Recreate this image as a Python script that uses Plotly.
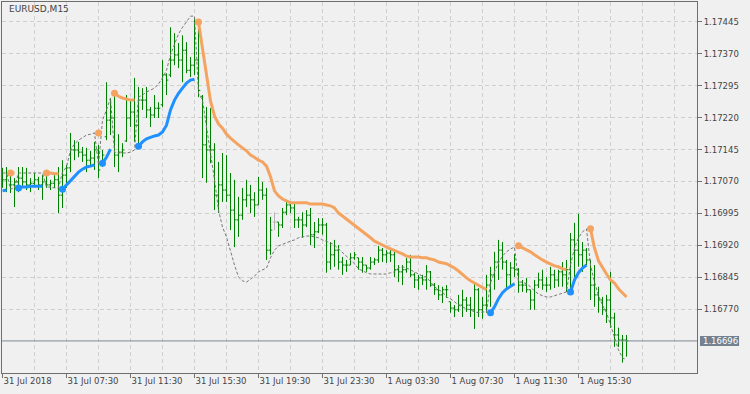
import plotly.graph_objects as go

# ---------------- data ----------------
bars = list(range(157))  # M15 bar index, 0 = 31 Jul 2018 03:30

open_ = [1.17070,1.17074,1.17085,1.17062,1.17069,1.17078,1.17069,1.17062,1.17066,1.17074,
 1.17062,1.17069,1.17062,1.17066,1.17074,1.17038,1.17085,1.17102,1.17144,1.17144,
 1.17139,1.17132,1.17120,1.17125,1.17144,1.17110,1.17175,1.17214,1.17219,1.17132,
 1.17139,1.17165,1.17219,1.17233,1.17202,1.17261,1.17261,1.17238,1.17226,1.17242,
 1.17250,1.17320,1.17320,1.17355,1.17367,1.17355,1.17378,1.17331,1.17343,1.17355,
 1.17270,1.17156,1.17144,1.17144,1.17038,1.17062,1.17050,1.17038,1.17003,1.16980,
 1.16991,1.17027,1.17038,1.17027,1.17015,1.17050,1.17038,1.16909,1.16975,1.16975,
 1.16968,1.16998,1.17015,1.17008,1.16980,1.16980,1.16968,1.16991,1.16945,1.16952,
 1.16968,1.16968,1.16881,1.16898,1.16909,1.16881,1.16874,1.16874,1.16891,1.16891,
 1.16881,1.16874,1.16867,1.16881,1.16886,1.16909,1.16898,1.16902,1.16898,1.16863,
 1.16858,1.16863,1.16881,1.16851,1.16839,1.16844,1.16839,1.16858,1.16827,1.16816,
 1.16804,1.16816,1.16788,1.16773,1.16769,1.16780,1.16792,1.16780,1.16769,1.16816,
 1.16769,1.16780,1.16827,1.16851,1.16881,1.16909,1.16881,1.16851,1.16867,1.16863,
 1.16827,1.16827,1.16816,1.16792,1.16827,1.16839,1.16827,1.16827,1.16851,1.16839,
 1.16858,1.16851,1.16863,1.16933,1.16909,1.16898,1.16909,1.16886,1.16827,1.16804,
 1.16792,1.16769,1.16792,1.16750,1.16710,1.16698,1.16698]

high = [1.17102,1.17104,1.17097,1.17078,1.17104,1.17104,1.17102,1.17078,1.17090,1.17081,
 1.17085,1.17085,1.17074,1.17085,1.17104,1.17120,1.17109,1.17184,1.17167,1.17163,
 1.17151,1.17149,1.17142,1.17163,1.17156,1.17144,1.17303,1.17266,1.17284,1.17181,
 1.17160,1.17273,1.17261,1.17313,1.17292,1.17289,1.17292,1.17245,1.17273,1.17256,
 1.17355,1.17324,1.17432,1.17418,1.17395,1.17413,1.17397,1.17362,1.17456,1.17444,
 1.17273,1.17245,1.17242,1.17160,1.17116,1.17137,1.17132,1.17090,1.17074,1.17034,
 1.17055,1.17074,1.17062,1.17045,1.17081,1.17069,1.17055,1.16987,1.16998,1.16975,
 1.17008,1.17027,1.17022,1.17020,1.16987,1.16998,1.17003,1.17008,1.16975,1.16984,
 1.16984,1.16973,1.16928,1.16933,1.16921,1.16893,1.16886,1.16902,1.16905,1.16891,
 1.16893,1.16874,1.16893,1.16891,1.16919,1.16914,1.16909,1.16914,1.16905,1.16874,
 1.16874,1.16891,1.16898,1.16856,1.16851,1.16851,1.16874,1.16860,1.16832,1.16827,
 1.16823,1.16827,1.16788,1.16780,1.16804,1.16816,1.16799,1.16799,1.16832,1.16820,
 1.16799,1.16851,1.16870,1.16905,1.16933,1.16928,1.16886,1.16881,1.16900,1.16867,
 1.16839,1.16844,1.16816,1.16839,1.16856,1.16863,1.16846,1.16870,1.16863,1.16863,
 1.16881,1.16886,1.16949,1.16973,1.16994,1.16928,1.16914,1.16886,1.16874,1.16823,
 1.16799,1.16804,1.16858,1.16762,1.16727,1.16710,1.16710]

low = [1.17055,1.17045,1.17043,1.17010,1.17045,1.17057,1.17050,1.17045,1.17059,1.17050,
 1.17027,1.17055,1.17050,1.17055,1.16996,1.17008,1.17055,1.17092,1.17120,1.17127,
 1.17116,1.17092,1.17104,1.17097,1.17078,1.17104,1.17167,1.17179,1.17104,1.17092,
 1.17127,1.17163,1.17198,1.17163,1.17149,1.17238,1.17219,1.17198,1.17219,1.17219,
 1.17245,1.17273,1.17315,1.17343,1.17336,1.17303,1.17324,1.17315,1.17320,1.17268,
 1.17078,1.17067,1.17113,1.17003,1.16996,1.17022,1.17022,1.16956,1.16916,1.16940,
 1.16980,1.17010,1.16996,1.16987,1.17015,1.17027,1.16886,1.16898,1.16956,1.16940,
 1.16961,1.16991,1.16996,1.16961,1.16961,1.16938,1.16963,1.16921,1.16914,1.16949,
 1.16945,1.16856,1.16863,1.16870,1.16863,1.16851,1.16858,1.16874,1.16886,1.16863,
 1.16856,1.16858,1.16863,1.16874,1.16879,1.16881,1.16879,1.16881,1.16846,1.16834,
 1.16827,1.16856,1.16846,1.16820,1.16816,1.16827,1.16816,1.16823,1.16804,1.16792,
 1.16785,1.16797,1.16762,1.16752,1.16764,1.16752,1.16764,1.16752,1.16724,1.16752,
 1.16748,1.16762,1.16776,1.16816,1.16839,1.16863,1.16816,1.16827,1.16846,1.16809,
 1.16811,1.16809,1.16769,1.16769,1.16820,1.16816,1.16811,1.16816,1.16820,1.16823,
 1.16823,1.16811,1.16809,1.16844,1.16870,1.16858,1.16874,1.16792,1.16776,1.16762,
 1.16757,1.16738,1.16727,1.16682,1.16682,1.16645,1.16659]

close = [1.17074,1.17085,1.17062,1.17069,1.17078,1.17069,1.17062,1.17066,1.17074,1.17062,
 1.17069,1.17062,1.17066,1.17074,1.17038,1.17085,1.17102,1.17144,1.17144,1.17139,
 1.17132,1.17120,1.17125,1.17144,1.17097,1.17132,1.17214,1.17219,1.17132,1.17139,
 1.17144,1.17219,1.17233,1.17202,1.17261,1.17261,1.17238,1.17226,1.17242,1.17242,
 1.17320,1.17308,1.17355,1.17367,1.17355,1.17378,1.17331,1.17343,1.17355,1.17284,
 1.17156,1.17144,1.17144,1.17038,1.17062,1.17050,1.17038,1.17003,1.16980,1.16991,
 1.17027,1.17038,1.17027,1.17015,1.17050,1.17038,1.16909,1.16956,1.16975,1.16968,
 1.16998,1.17015,1.17008,1.16980,1.16980,1.16968,1.16991,1.16945,1.16952,1.16968,
 1.16968,1.16881,1.16898,1.16909,1.16881,1.16874,1.16874,1.16891,1.16898,1.16881,
 1.16874,1.16867,1.16881,1.16886,1.16909,1.16898,1.16902,1.16898,1.16863,1.16858,
 1.16863,1.16881,1.16851,1.16839,1.16844,1.16839,1.16858,1.16827,1.16816,1.16804,
 1.16816,1.16816,1.16773,1.16769,1.16780,1.16792,1.16780,1.16769,1.16816,1.16769,
 1.16780,1.16827,1.16851,1.16881,1.16909,1.16881,1.16851,1.16867,1.16863,1.16827,
 1.16827,1.16816,1.16792,1.16827,1.16839,1.16827,1.16827,1.16851,1.16839,1.16858,
 1.16851,1.16863,1.16933,1.16909,1.16898,1.16909,1.16886,1.16827,1.16804,1.16792,
 1.16769,1.16792,1.16750,1.16710,1.16698,1.16698,1.16696]

doji_bars = [68]

upper_band = [1.17090]*11 + [1.17090,1.17090,1.17088,1.17088,1.17092,1.17104,1.17144,1.17158,1.17167,
 1.17174,1.17179,1.17181,1.17184,1.17184,1.17214,1.17238,1.17266,1.17277,1.17270,
 1.17266,1.17263,1.17261,1.17261,1.17268,1.17273,1.17280,1.17284,1.17289,1.17299,
 1.17313,1.17331,1.17367,1.17392,1.17416,1.17432,1.17446,1.17458,1.17458,1.17444,
 1.17383,1.17313,1.17259,1.17224,1.17205,1.17195,1.17181,1.17172,1.17163,1.17156,
 1.17149,1.17142,1.17132,1.17127,1.17120,1.17116,1.17106,1.17081,1.17048,1.17036,
 1.17029,1.17024,1.17020,1.17020,1.17020,1.17020,1.17020,1.17017,1.17017,1.17017,
 1.17017,1.17015,1.17013,1.17008,1.16996,1.16989,1.16982,1.16975,1.16968,1.16961,
 1.16954,1.16947,1.16938,1.16930,1.16926,1.16921,1.16916,1.16912,1.16909,1.16905,
 1.16900,1.16895,1.16893,1.16893,1.16893,1.16891,1.16891,1.16888,1.16886,1.16881,
 1.16879,1.16877,1.16872,1.16867,1.16860,1.16851,1.16844,1.16837,1.16832,1.16827,
 1.16823,1.16816,1.16832,1.16858,1.16879,1.16895,1.16905,1.16912,1.16916,1.16919,
 1.16914,1.16909,1.16905,1.16898,1.16891,1.16886,1.16881,1.16877,1.16872,1.16870,
 1.16865,1.16863,1.16874,1.16914,1.16938,1.16952,1.16959,1.16959,1.16914,1.16884,
 1.16867,1.16853,1.16839,1.16832,1.16818,1.16809,1.16799]

lower_band = [1.17048,1.17050,1.17052,1.17055,1.17055,1.17057,1.17057,1.17059,1.17059,1.17059,
 1.17059,1.17057,1.17057,1.17055,1.17055,1.17052,1.17062,1.17074,1.17083,1.17092,
 1.17099,1.17104,1.17106,1.17109,1.17109,1.17113,1.17127,1.17146,1.17139,1.17137,
 1.17137,1.17137,1.17139,1.17144,1.17153,1.17163,1.17170,1.17174,1.17177,1.17179,
 1.17186,1.17202,1.17238,1.17261,1.17277,1.17289,1.17301,1.17308,1.17310,1.17277,
 1.17261,1.17202,1.17144,1.17074,1.17003,1.16963,1.16940,1.16905,1.16874,1.16846,
 1.16837,1.16834,1.16841,1.16848,1.16858,1.16863,1.16867,1.16891,1.16909,1.16919,
 1.16923,1.16926,1.16930,1.16933,1.16938,1.16940,1.16942,1.16942,1.16940,1.16938,
 1.16933,1.16930,1.16926,1.16921,1.16912,1.16905,1.16895,1.16886,1.16877,1.16865,
 1.16860,1.16856,1.16853,1.16853,1.16853,1.16853,1.16853,1.16856,1.16858,1.16867,
 1.16870,1.16867,1.16863,1.16858,1.16853,1.16848,1.16846,1.16834,1.16823,1.16816,
 1.16811,1.16799,1.16795,1.16788,1.16780,1.16776,1.16771,1.16769,1.16764,1.16762,
 1.16764,1.16764,1.16762,1.16776,1.16795,1.16809,1.16818,1.16825,1.16830,1.16834,
 1.16834,1.16830,1.16823,1.16813,1.16806,1.16802,1.16799,1.16799,1.16802,1.16806,
 1.16809,1.16811,1.16811,1.16839,1.16856,1.16867,1.16874,1.16874,1.16834,1.16802,
 1.16780,1.16762,1.16734,1.16706,1.16675,1.16656,1.16652]

# trend runs: (first bar, last bar, +1 = up/blue support, -1 = down/orange resistance)
trend_runs = [(0, 1, 1), (2, 3, -1), (4, 10, 1), (11, 14, -1), (15, 23, 1), (24, 24, -1),
              (25, 27, 1), (28, 33, -1), (34, 48, 1), (49, 121, -1), (122, 128, 1),
              (129, 141, -1), (142, 146, 1), (147, 156, -1)]

current_price = 1.16696
x_tick_bars = [0, 16, 32, 48, 64, 80, 96, 112, 128, 144]
x_tick_labels = ["31 Jul 2018", "31 Jul 07:30", "31 Jul 11:30", "31 Jul 15:30", "31 Jul 19:30",
                 "31 Jul 23:30", "1 Aug 03:30", "1 Aug 07:30", "1 Aug 11:30", "1 Aug 15:30"]
x_grid_bars = list(range(8, 176, 8))
y_ticks = [1.16770, 1.16845, 1.16920, 1.16995, 1.17070, 1.17145, 1.17220, 1.17295, 1.17370, 1.17445]
symbol_label = "EURUSD,M15"

# ---------------- derived series ----------------
trend = [0] * len(bars)
for a, b, d in trend_runs:
    for k in range(a, b + 1):
        trend[k] = d

blue_line = [lower_band[k] if trend[k] == 1 else None for k in bars]
orange_line = [upper_band[k] if trend[k] == -1 else None for k in bars]
dashed_line = [upper_band[k] if trend[k] == 1 else lower_band[k] for k in bars]
starts = [a for a, b, d in trend_runs if a > 0]
blue_dots_x = [a for a in starts if trend[a] == 1]
blue_dots_y = [lower_band[a] for a in blue_dots_x]
orange_dots_x = [a for a in starts if trend[a] == -1]
orange_dots_y = [upper_band[a] for a in orange_dots_x]

main = [k for k in bars if k not in doji_bars]

FONT = "DejaVu Sans, Verdana, sans-serif"
TXT = "#444444"
GREEN = "#008000"
ORANGE = "#F4A460"
BLUE = "#1E90FF"

fig = go.Figure()

fig.add_trace(go.Ohlc(
    x=main, open=[open_[k] for k in main], high=[high[k] for k in main],
    low=[low[k] for k in main], close=[close[k] for k in main],
    increasing=dict(line=dict(color=GREEN, width=1)),
    decreasing=dict(line=dict(color=GREEN, width=1)),
    tickwidth=0.45, hoverinfo="skip", showlegend=False))

fig.add_trace(go.Ohlc(
    x=doji_bars, open=[open_[k] for k in doji_bars], high=[high[k] for k in doji_bars],
    low=[low[k] for k in doji_bars], close=[close[k] for k in doji_bars],
    increasing=dict(line=dict(color="#B4B4B4", width=1)),
    decreasing=dict(line=dict(color="#B4B4B4", width=1)),
    tickwidth=0.45, hoverinfo="skip", showlegend=False))

fig.add_trace(go.Scatter(x=bars, y=dashed_line, mode="lines",
                         line=dict(color="#787878", width=1, dash="3px,2px"),
                         hoverinfo="skip", showlegend=False))

fig.add_trace(go.Scatter(x=bars, y=orange_line, mode="lines", connectgaps=False,
                         line=dict(color=ORANGE, width=3), hoverinfo="skip", showlegend=False))
fig.add_trace(go.Scatter(x=bars, y=blue_line, mode="lines", connectgaps=False,
                         line=dict(color=BLUE, width=3), hoverinfo="skip", showlegend=False))
fig.add_trace(go.Scatter(x=orange_dots_x, y=orange_dots_y, mode="markers",
                         marker=dict(color=ORANGE, size=7), hoverinfo="skip", showlegend=False))
fig.add_trace(go.Scatter(x=blue_dots_x, y=blue_dots_y, mode="markers",
                         marker=dict(color=BLUE, size=7), hoverinfo="skip", showlegend=False))

# current price line and label
fig.add_shape(type="line", xref="paper", yref="y", x0=0, x1=1, y0=current_price, y1=current_price,
              line=dict(color="#7E8993", width=1), layer="above")
fig.add_shape(type="rect", xref="paper", yref="y", x0=1.0043, x1=1.0605,
              y0=current_price - 0.000118, y1=current_price + 0.000118,
              fillcolor="#738190", line=dict(width=0), layer="above")
fig.add_annotation(xref="paper", yref="y", x=1.0062, y=current_price, xanchor="left", yanchor="middle",
                   text=f"{current_price:.5f}", showarrow=False,
                   font=dict(family=FONT, size=8.5, color="#FFFFFF"))

fig.add_annotation(xref="paper", yref="paper", x=0.0065, y=0.981, xanchor="left", yanchor="middle",
                   text=symbol_label, showarrow=False, font=dict(family=FONT, size=9, color=TXT))

fig.update_layout(
    width=750, height=394,
    margin=dict(l=2, r=53, t=2, b=21, autoexpand=False),
    paper_bgcolor="#F0F0F0", plot_bgcolor="#F0F0F0",
    showlegend=False,
    font=dict(family=FONT, size=8.5, color=TXT),
    xaxis=dict(range=[-0.125, 173.625], rangeslider=dict(visible=False),
               tickmode="array", tickvals=x_tick_bars, ticktext=x_tick_labels,
               ticks="outside", ticklen=4, tickcolor="#707070", tickwidth=1,
               ticklabelposition="outside right",
               showgrid=False, zeroline=False,
               showline=True, linecolor="#6E6E6E", linewidth=1, mirror=True,
               minor=dict(tickmode="array", tickvals=x_grid_bars, showgrid=True,
                          gridcolor="#CFCFCF", griddash="4px,3px", gridwidth=1, ticklen=0),
               tickfont=dict(family=FONT, size=8.5, color=TXT), automargin=False),
    yaxis=dict(range=[1.166207, 1.174912], side="right",
               tickmode="array", tickvals=y_ticks, ticktext=[f"{v:.5f}" for v in y_ticks],
               ticks="outside", ticklen=4, tickcolor="#707070", tickwidth=1,
               showgrid=True, gridcolor="#CFCFCF", griddash="4px,3px", gridwidth=1,
               zeroline=False,
               showline=True, linecolor="#6E6E6E", linewidth=1, mirror=True,
               tickfont=dict(family=FONT, size=8.5, color=TXT), automargin=False),
)

fig.write_html("out.html")
